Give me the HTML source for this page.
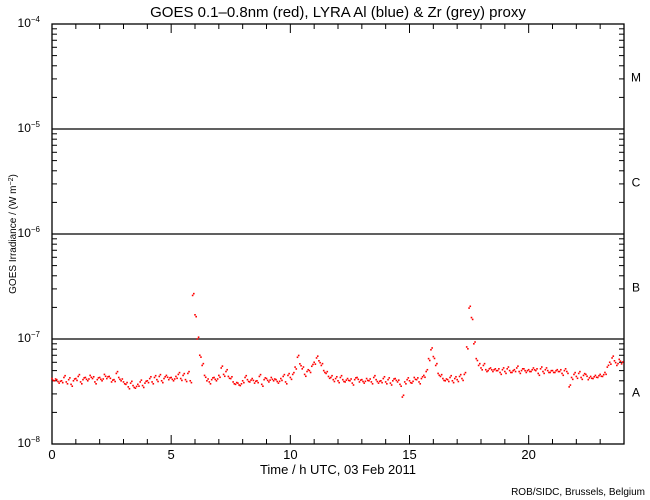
<!DOCTYPE html>
<html><head><meta charset="utf-8"><style>
body{margin:0;background:#fff;}
svg{display:block;font-family:"Liberation Sans",sans-serif;}
</style></head><body>
<svg id="chart" width="650" height="500" xmlns="http://www.w3.org/2000/svg">
<rect width="650" height="500" fill="#fff"/>
<text x="338" y="17" font-size="15" text-anchor="middle" fill="#000">GOES 0.1–0.8nm (red), LYRA Al (blue) &amp; Zr (grey) proxy</text>
<g id="axes"></g><g id="marks"></g>
<text x="338" y="474" font-size="13" text-anchor="middle">Time / h UTC, 03 Feb 2011</text>
<text transform="translate(16,234) rotate(-90)" font-size="10" text-anchor="middle">GOES Irradiance / (W m<tspan baseline-shift="super" font-size="7">−2</tspan>)</text>
<text x="645" y="495" font-size="10" text-anchor="end">ROB/SIDC, Brussels, Belgium</text>
</svg>
<script>
const xTicks=[0,5,10,15,20];
const yDecades=[-8,-7,-6,-5,-4];
const classLabels=["A","B","C","M"];
// flux in units of 1e-8 W/m^2, 0.1 h steps from 0.0
const flux=[
4.2,4.0,4.1,3.8,4.0,4.3,3.9,4.1,3.7,4.0,
4.2,4.4,3.9,4.1,4.3,4.0,4.5,4.2,3.9,4.1,
4.3,4.0,4.6,4.2,4.4,3.9,4.1,4.7,4.3,4.0,
3.9,3.7,3.5,3.8,3.6,3.4,3.7,3.9,3.6,3.8,
4.0,4.2,3.9,4.3,4.1,4.4,4.0,4.2,4.5,4.1,
4.3,4.0,4.4,4.6,4.2,4.5,4.1,4.7,4.0,26,
17,10,7,5.6,4.5,4.0,3.9,4.1,4.3,4.0,
4.5,5.3,4.6,4.9,4.4,4.2,3.9,3.7,3.8,3.6,
4.0,4.3,4.1,3.9,4.2,3.8,4.0,4.4,3.7,4.1,
4.2,3.9,4.3,4.0,4.1,3.8,4.2,4.4,3.9,4.5,
4.3,4.6,5.4,6.7,5.8,5.2,4.6,4.9,5.0,5.5,
6.0,6.6,6.2,5.6,5.0,4.7,4.4,4.3,4.1,4.2,
4.0,4.3,4.1,3.9,4.2,4.0,3.8,4.1,4.3,3.9,
4.1,3.8,4.2,4.0,3.9,4.3,4.1,3.8,4.0,4.2,
3.9,4.1,3.8,4.0,4.2,3.9,3.7,2.8,3.9,4.1,
4.0,3.8,4.3,4.1,3.9,4.2,4.5,4.9,6.5,7.9,
6.8,5.6,4.7,4.4,4.2,4.0,4.1,4.3,4.0,4.2,
4.1,4.4,4.2,4.6,8.4,19.7,16,9,6.5,5.6,
5.3,5.6,5.1,5.0,5.3,4.9,5.2,5.0,4.8,5.1,
4.9,5.2,5.0,4.8,5.1,5.3,4.9,5.0,5.2,4.8,
5.1,4.9,5.3,5.0,4.7,5.2,4.9,5.1,5.0,4.8,
5.0,4.8,5.1,4.9,4.7,5.0,4.9,3.5,4.3,4.6,
4.4,4.7,4.3,4.5,4.6,4.1,4.4,4.2,4.5,4.3,
4.6,4.4,4.8,5.4,6.0,6.6,6.2,5.6,6.4,5.8];
const L=52,R=624,T=24,B=444;
const xs=h=>L+(R-L)*h/24;
const ys=lg=>B-(B-T)*(lg+8)/4;
const NS="http://www.w3.org/2000/svg";
const ax=document.getElementById('axes'),mk=document.getElementById('marks');
function el(t,a,p){const e=document.createElementNS(NS,t);for(const k in a)e.setAttribute(k,a[k]);p.appendChild(e);return e;}
const fr=el('rect',{x:L,y:T,width:R-L,height:B-T,fill:'none',stroke:'#000','stroke-width':1.3},ax);


for(let h=0;h<=24;h++){const x=xs(h),len=h%5===0?9:5;
 el('line',{x1:x,y1:B,x2:x,y2:B-len,stroke:'#000'},ax);
 el('line',{x1:x,y1:T,x2:x,y2:T+len,stroke:'#000'},ax);}
xTicks.forEach(v=>{const t=el('text',{x:xs(v),y:B+15,'font-size':13,'text-anchor':'middle'},ax);t.textContent=v;
 
 });
yDecades.forEach((d,i)=>{const y=ys(d);
 el('line',{x1:L,y1:y,x2:L+9,y2:y,stroke:'#000'},ax);el('line',{x1:R,y1:y,x2:R-9,y2:y,stroke:'#000'},ax);
 if(i>0&&i<4){const g=el('line',{x1:L,y1:y,x2:R,y2:y,stroke:'#000','stroke-width':1.3},ax);
  
  }
 const t=el('text',{x:40,y:y+3,'font-size':12,'text-anchor':'end'},ax);t.textContent='10';
 const s=el('tspan',{'font-size':8,dy:-5},t);s.textContent='−'+(-d);
 
 
 if(i<4){for(let m=2;m<10;m++){const yy=ys(d+Math.log10(m));
  el('line',{x1:L,y1:yy,x2:L+5,y2:yy,stroke:'#000'},ax);el('line',{x1:R,y1:yy,x2:R-5,y2:yy,stroke:'#000'},ax);}
  const c=el('text',{x:636,y:ys(d+0.5)+5,'font-size':12,'text-anchor':'middle'},ax);c.textContent=classLabels[i];
  
  }
});
flux.forEach((v,i)=>{const h=i*0.1,y=ys(Math.log10(v*1e-8));
 const d=el('rect',{x:xs(h)-0.8,y:y-0.8,width:1.6,height:1.6,fill:'#f00'},mk);
 
 
 const d2=el('rect',{x:xs(h+0.05)-0.8,y:ys(Math.log10(v*1e-8*(i%2?1.04:0.96)))-0.8,width:1.6,height:1.6,fill:'#f00'},mk);
 
 
});
</script>
</body></html>
